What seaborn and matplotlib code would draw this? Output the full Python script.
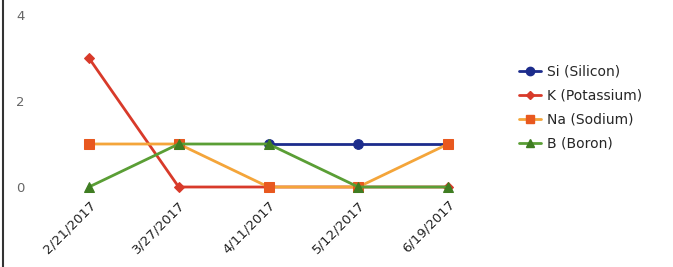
import numpy as np
import pandas as pd
import matplotlib
matplotlib.use("Agg")
import matplotlib.pyplot as plt
import seaborn as sns
from matplotlib.lines import Line2D

dates = ["2/21/2017", "3/27/2017", "4/11/2017", "5/12/2017", "6/19/2017"]
si = [np.nan, np.nan, 1, 1, 1]
k = [3, 0, 0, 0, 0]
na = [1, 1, 0, 0, 1]
b = [0, 1, 1, 0, 0]
series_names = ["Si (Silicon)", "K (Potassium)", "Na (Sodium)", "B (Boron)"]
y_ticks = [0, 2, 4]

sns.set_theme(style="white")
plt.rcParams['font.family'] = ['DejaVu Sans']

fig = plt.figure(figsize=(6.73, 2.67), dpi=100)
ax = fig.add_axes([44 / 673, (267 - 187) / 267, (493 - 44) / 673, (187 - 15) / 267])

styles = [
    dict(color="#1c2c8c", marker="o", ms=7, mfc="#1c2c8c"),
    dict(color="#d83a2a", marker="D", ms=5, mfc="#d83a2a"),
    dict(color="#f4a53a", marker="s", ms=7, mfc="#e8581f"),
    dict(color="#5a9e35", marker="^", ms=7, mfc="#3f7d22"),
]
values = [si, k, na, b]
xpos = np.arange(len(dates))
for name, vals, st in zip(series_names, values, styles):
    df = pd.DataFrame({"x": xpos, "y": vals}).dropna()
    sns.lineplot(data=df, x="x", y="y", ax=ax, color=st["color"], linewidth=2,
                 marker=st["marker"], markersize=st["ms"], markerfacecolor=st["mfc"],
                 markeredgecolor=st["mfc"], clip_on=False, legend=False)

ax.set_xlim(-0.5, len(dates) - 0.5)
ax.set_ylim(0, 4)
ax.set_xticks(xpos)
ax.set_xticklabels(dates, rotation=45, ha="right", rotation_mode="anchor", fontsize=9.5, color="#222222")
ax.set_yticks(y_ticks)
ax.set_yticklabels([str(t) for t in y_ticks], fontsize=9.5, color="#666666")
ax.tick_params(axis="y", pad=14, length=0)
ax.tick_params(axis="x", pad=8, length=0)
ax.set_xlabel("")
ax.set_ylabel("")
for s in ax.spines.values():
    s.set_visible(False)
ax.grid(False)

handles = [Line2D([0], [0], color=st["color"], lw=2, marker=st["marker"],
                  markersize=st["ms"] - 1, markerfacecolor=st["mfc"], markeredgecolor=st["mfc"])
           for st in styles]
fig.legend(handles, series_names, loc="upper left", bbox_to_anchor=(512 / 673, 1 - 58 / 267),
           frameon=False, fontsize=10, handlelength=1.6, handletextpad=0.4, labelspacing=0.72,
           borderpad=0)

# scanned page border at the left edge
fig.add_artist(Line2D([3 / 673, 3 / 673], [0, 1], color="#333333", lw=1.5, transform=fig.transFigure))

fig.savefig("out.png", dpi=100)
